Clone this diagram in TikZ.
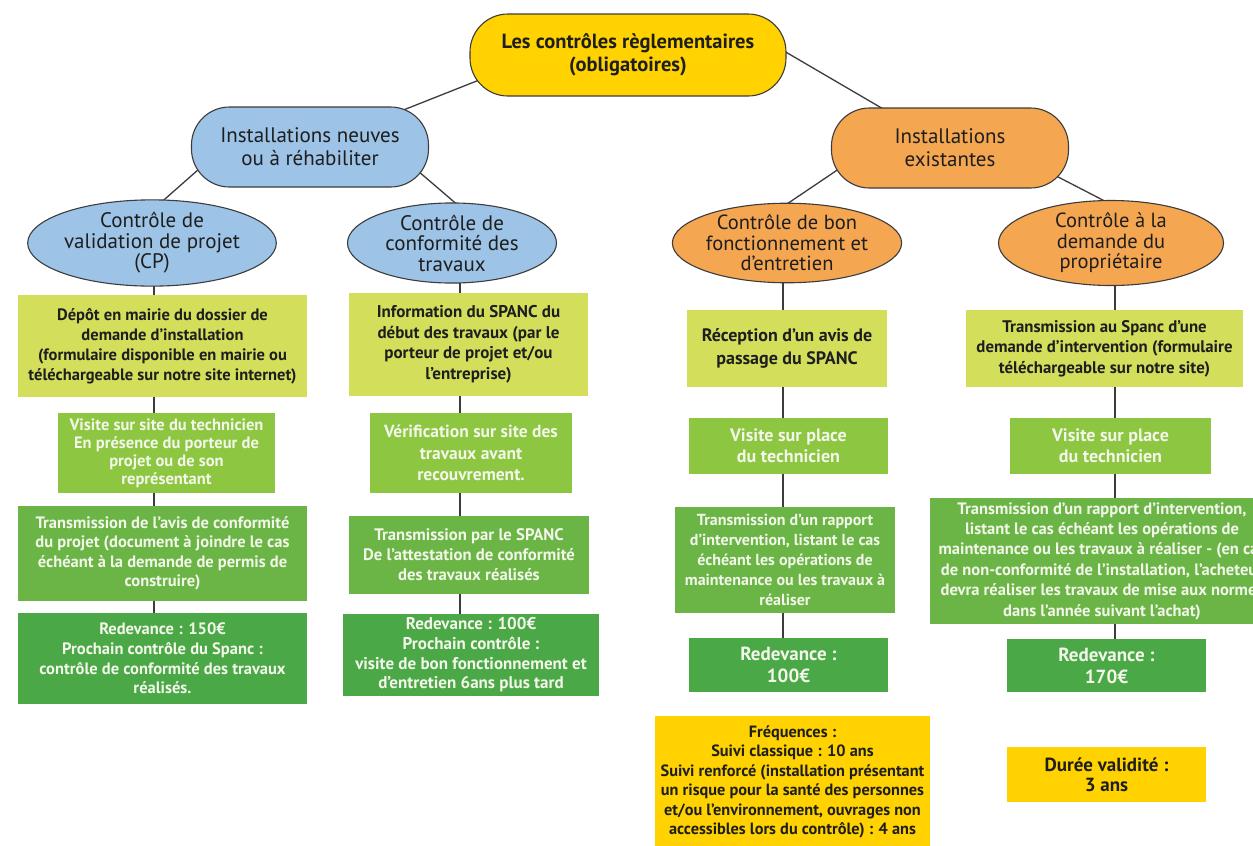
\documentclass[tikz,border=0pt]{standalone}
\usepackage{fontspec}
\setmainfont{PT Sans}
\usetikzlibrary{calc,backgrounds,shapes.geometric}
\definecolor{rootY}{HTML}{FFD200}
\definecolor{blueE}{HTML}{9DC3E6}
\definecolor{orangeE}{HTML}{F4A651}
\definecolor{gA}{HTML}{D3DF5B}
\definecolor{gB}{HTML}{8DC641}
\definecolor{gC}{HTML}{6AB545}
\definecolor{gD}{HTML}{4BA847}
\definecolor{lineC}{HTML}{3C3C3C}
\definecolor{txtL}{HTML}{F3F7EA}
\definecolor{txtD}{HTML}{1E1E1E}
\newcommand\fsz[2]{\fontsize{#1}{#2}\selectfont}
\tikzset{
  base/.style={inner sep=0pt, align=center, text=txtD},
  oval/.style={base, draw=lineC, line width=1.1pt, rounded corners=38pt},
  ell/.style={base, ellipse, draw=lineC, line width=1.1pt, minimum height=72pt},
  boxA/.style={base, fill=gA, text=txtD},
  boxB/.style={base, fill=gB, text=txtL},
  boxC/.style={base, fill=gC, text=txtL},
  boxD/.style={base, fill=gD, text=txtL},
  boxY/.style={base, fill=rootY, text=txtD},
  conn/.style={draw=lineC, line width=1.3pt}
}
\begin{document}
\begin{tikzpicture}[x=1pt,y=-1pt]
\useasboundingbox (0,0) rectangle (1253,846);
% top levels
\node[oval, fill=rootY, minimum width=316pt, minimum height=82pt, font=\bfseries\fsz{20.5}{23}] (root) at (628,55) {Les contrôles règlementaires\\(obligatoires)};
\node[oval, fill=blueE, minimum width=237pt, minimum height=80pt, font=\fsz{21}{23}] (nl) at (310,147) {Installations neuves\\ou à réhabiliter};
\node[oval, fill=orangeE, minimum width=237pt, minimum height=80pt, font=\fsz{21}{23}] (ex) at (950,148) {Installations\\existantes};
% level 3
\node[ell, fill=blueE, minimum width=206pt, font=\fsz{21}{20.5}] (cp) at (152,243) {Contrôle de\\validation de projet\\(CP)};
\node[ell, fill=blueE, minimum width=209pt, font=\fsz{21}{20.5}] (cc) at (452,243) {Contrôle de\\conformité des\\travaux};
\node[ell, fill=orangeE, minimum width=208pt, font=\fsz{20.5}{20.5}] (cb) at (787,243) {Contrôle de bon\\fonctionnement et\\d’entretien};
\node[ell, fill=orangeE, minimum width=225pt, font=\fsz{20.5}{20.5}] (cd) at (1111,243) {Contrôle à la\\demande du\\propriétaire};
% column 1
\node[boxA, minimum width=289pt, minimum height=102pt, font=\bfseries\fsz{16.5}{20}] (c1b1) at (162.5,346) {Dépôt en mairie du dossier de\\demande d’installation\\(formulaire disponible en mairie ou\\téléchargeable sur notre site internet)};
\node[boxB, minimum width=217pt, minimum height=80pt, font=\bfseries\fsz{16.5}{18}] (c1b2) at (166.5,453) {Visite sur site du technicien\\En présence du porteur de\\projet ou de son\\représentant};
\node[boxC, minimum width=289pt, minimum height=95pt, font=\bfseries\fsz{16.5}{19.5}] (c1b3) at (162.5,553.5) {Transmission de l’avis de conformité\\du projet (document à joindre le cas\\échéant à la demande de permis de\\construire)};
\node[boxD, minimum width=289pt, minimum height=91pt, font=\bfseries\fsz{16.5}{19.6}] (c1b4) at (162.5,658.5) {Redevance : 150€\\Prochain contrôle du Spanc :\\contrôle de conformité des travaux\\réalisés.};
% column 2
\node[boxA, minimum width=239pt, minimum height=103pt, font=\bfseries\fsz{17}{20.5}] (c2b1) at (468.5,344.5) {Information du SPANC du\\début des travaux (par le\\porteur de projet et/ou\\l’entreprise)};
\node[boxB, minimum width=202pt, minimum height=80pt, font=\bfseries\fsz{17.5}{21.5}] (c2b2) at (471,453) {Vérification sur site des\\travaux avant\\recouvrement.};
\node[boxC, minimum width=240pt, minimum height=78pt, font=\bfseries\fsz{16.7}{20}] (c2b3) at (469,555) {Transmission par le SPANC\\De l’attestation de conformité\\des travaux réalisés};
\node[boxD, minimum width=256pt, minimum height=82pt, font=\bfseries\fsz{17}{19.7}] (c2b4) at (471,655) {Redevance : 100€\\Prochain contrôle :\\visite de bon fonctionnement et\\d’entretien 6ans plus tard};
% column 3
\node[boxA, minimum width=200pt, minimum height=77pt, font=\bfseries\fsz{18}{22.5}] (c3b1) at (787,348.5) {Réception d’un avis de\\passage du SPANC};
\node[boxB, minimum width=199pt, minimum height=56pt, font=\bfseries\fsz{18}{21}] (c3b2) at (788.5,446) {Visite sur place\\du technicien};
\node[boxC, minimum width=220pt, minimum height=106pt, font=\bfseries\fsz{16}{20}] (c3b3) at (785,560) {Transmission d’un rapport\\d’intervention, listant le cas\\échéant les opérations de\\maintenance ou les travaux à\\réaliser};
\node[boxD, minimum width=199pt, minimum height=54pt, font=\bfseries\fsz{19}{22}] (c3b4) at (788.5,665) {Redevance :\\100€};
\node[boxY, minimum width=275pt, minimum height=132pt, font=\bfseries\fsz{16.3}{19.5}] (freq) at (792.5,782) {Fréquences :\\Suivi classique : 10 ans\\Suivi renforcé (installation présentant\\un risque pour la santé des personnes\\et/ou l’environnement, ouvrages non\\accessibles lors du contrôle) : 4 ans};
% column 4
\node[boxA, minimum width=277pt, minimum height=77pt, font=\bfseries\fsz{16.8}{20.5}] (c4b1) at (1104.5,348.5) {Transmission au Spanc d’une\\demande d’intervention (formulaire\\téléchargeable sur notre site)};
\node[boxB, minimum width=201pt, minimum height=56pt, font=\bfseries\fsz{18}{21}] (c4b2) at (1110.5,446) {Visite sur place\\du technicien};
\node[boxC, minimum width=344pt, minimum height=126pt, font=\bfseries\fsz{16.5}{20.4}] (c4b3) at (1102,561) {Transmission d’un rapport d’intervention,\\listant le cas échéant les opérations de\\maintenance ou les travaux à réaliser - (en cas\\de non-conformité de l’installation, l’acheteur\\devra réaliser les travaux de mise aux normes\\dans l’année suivant l’achat)};
\node[boxD, minimum width=199pt, minimum height=53pt, font=\bfseries\fsz{19}{22}] (c4b4) at (1106.5,665.5) {Redevance :\\170€};
\node[boxY, minimum width=199pt, minimum height=55pt, font=\bfseries\fsz{19}{20}] (duree) at (1106.5,774.5) {Durée validité :\\3 ans};
% connectors
\begin{scope}[on background layer]
\fill[white] (0,0) rectangle (1253,846);
\draw[conn] (nl.center) -- ($(root.center)+(-68,-7)$);
\draw[conn] ($(root.center)+(132,-18)$) -- (ex.center);
\draw[conn] ($(nl.center)+(-86,0)$) -- ($(cp.center)+(-37,0)$);
\draw[conn] ($(nl.center)+(80,0)$) -- ($(cc.center)+(50,0)$);
\draw[conn] ($(ex.center)+(-80,0)$) -- ($(cb.center)+(-58,0)$);
\draw[conn] ($(ex.center)+(52,0)$) -- ($(cd.center)+(75,0)$);
\draw[conn] ($(cp.center)+(2,0)$) -- ($(cp.center |- c1b4.center)+(2,0)$);
\draw[conn] ($(cc.center)+(8,0)$) -- ($(cc.center |- c2b4.center)+(8,0)$);
\draw[conn] ($(cb.center)+(-4,0)$) -- ($(cb.center |- c3b4.center)+(-4,0)$);
\draw[conn] ($(cd.center)+(4,0)$) -- ($(cd.center |- c4b4.center)+(4,0)$);
\end{scope}
\end{tikzpicture}
\end{document}
